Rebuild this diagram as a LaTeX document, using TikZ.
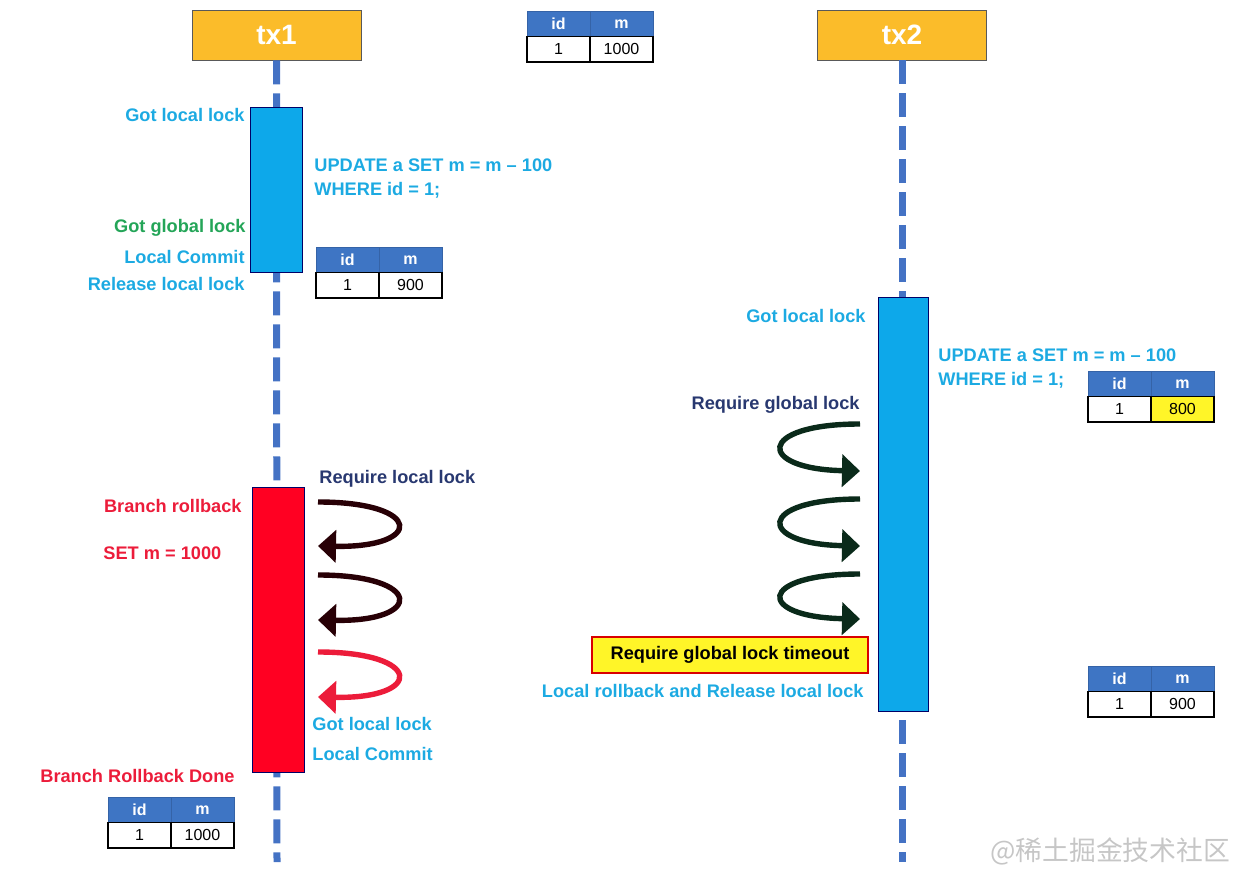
\documentclass[tikz,border=0pt]{standalone}
\usepackage{fontspec}
\setmainfont{Liberation Sans}
\newfontfamily\cjkfont{Noto Sans CJK SC}
\usepackage{tikz}
\usetikzlibrary{arrows.meta, positioning}

\definecolor{txorange}{RGB}{251,188,42}
\definecolor{lifeblue}{RGB}{68,114,196}
\definecolor{barblue}{RGB}{13,168,234}
\definecolor{barred}{RGB}{255,0,34}
\definecolor{hdrblue}{RGB}{62,117,196}
\definecolor{txtcyan}{RGB}{28,170,226}
\definecolor{txtgreen}{RGB}{36,165,88}
\definecolor{txtnavy}{RGB}{40,56,112}
\definecolor{txtred}{RGB}{236,28,58}
\definecolor{loopdark}{RGB}{40,0,6}
\definecolor{loopgreen}{RGB}{10,42,26}
\definecolor{timeoutyellow}{RGB}{255,245,40}

% one small id/m table: name, left x, top y, value, value fill
\newcommand{\dbtable}[5]{%
  \node[hcell, anchor=north west] (#1id) at (#2,#3) {id};
  \node[hcell, right=0pt of #1id] (#1m) {m};
  \node[vcell, below=0pt of #1id] (#1one) {1};
  \node[vcell, fill=#5, below=0pt of #1m] (#1val) {#4};
}

\begin{document}
\begin{tikzpicture}[
    x=0.5pt, y=-0.5pt,
    % Styles
    txhead/.style={rectangle, draw=gray!70!black, fill=txorange, minimum width=84.5pt, minimum height=25pt, text=white, font=\bfseries\fontsize{14}{16}\selectfont},
    lifeline/.style={lifeblue, line width=3.5pt, dash pattern=on 12pt off 4.5pt},
    bar/.style={rectangle, draw=blue!40!black, minimum width=26pt, inner sep=0pt},
    hcell/.style={rectangle, draw=hdrblue!85!black, fill=hdrblue, minimum width=31.5pt, minimum height=12.75pt, inner sep=0pt, outer sep=0pt, text=white, font=\bfseries\fontsize{8}{9}\selectfont},
    vcell/.style={rectangle, draw=black, thick, fill=white, minimum width=31.5pt, minimum height=12.75pt, inner sep=0pt, outer sep=0pt, font=\fontsize{8}{9}\selectfont},
    lbl/.style={inner sep=0pt, font=\bfseries\fontsize{9.1}{12}\selectfont, align=left},
    looparrow/.style={line width=2.7pt, -{Triangle[length=9pt, width=16pt]}},
]
\useasboundingbox (0,0) rectangle (1254,882);

% === HEADERS AND LIFELINES ===
\node[txhead] (tx1) at (276.5,35) {tx1};
\node[txhead] (tx2) at (902,35) {tx2};
\coordinate (tx1end) at (277,862);
\coordinate (tx2end) at (902,862);
\draw[lifeline] (tx1.south) -- (tx1end);
\draw[lifeline] (tx2.south) -- (tx2end);

\dbtable{t0}{527}{11}{1000}{white}

% === TX1 ===
\node[bar, fill=barblue, minimum height=82.5pt] (lock1) at (276,189.5) {};
\node[lbl, txtcyan, anchor=east] (gotlocal1) at (245,115) {Got local lock};
\node[lbl, txtcyan, anchor=west] (update1) at (314,179) {UPDATE a SET m = m -- 100\\WHERE id = 1;};
\node[lbl, txtgreen, anchor=east] (gotglobal1) at (246,228) {Got global lock};
\node[lbl, txtcyan, anchor=east] (commit1) at (245,257) {Local Commit};
\node[lbl, txtcyan, anchor=east] (release1) at (245,284) {Release local lock};
\dbtable{t1}{316}{247}{900}{white}

% Branch rollback
\node[bar, fill=barred, minimum height=142.5pt] (rollback) at (278,629.5) {};
\node[lbl, txtred, anchor=east] (branchrb) at (242,506) {Branch rollback};
\node[lbl, txtred, anchor=west] (setm) at (103,553) {SET m = 1000};
\node[lbl, txtnavy, anchor=west] (reqlocal) at (319,479) {Require local lock};
\node[lbl, txtcyan, anchor=west] (gotlocal3) at (312,724) {Got local lock};
\node[lbl, txtcyan, anchor=west] (commit3) at (312,754) {Local Commit};
\node[lbl, txtred, anchor=west] (rbdone) at (40,776) {Branch Rollback Done};
\dbtable{t4}{108}{797}{1000}{white}

% Retry loops (local lock)
\coordinate (la1) at (318,502);
\coordinate (lb1) at (318,546);
\coordinate (la2) at (318,575);
\coordinate (lb2) at (318,620);
\coordinate (la3) at (318,652);
\coordinate (lb3) at (318,697);
\draw[looparrow, loopdark] (la1) .. controls +(106,0) and +(106,2) .. (lb1);
\draw[looparrow, loopdark] (la2) .. controls +(106,0) and +(106,2) .. (lb2);
\draw[looparrow, txtred] (la3) .. controls +(106,0) and +(106,2) .. (lb3);

% === TX2 ===
\node[bar, fill=barblue, minimum width=25pt, minimum height=207pt] (lock2) at (903,504) {};
\node[lbl, txtcyan, anchor=east] (gotlocal2) at (866,316) {Got local lock};
\node[lbl, txtcyan, anchor=west] (update2) at (938,369) {UPDATE a SET m = m -- 100\\WHERE id = 1;};
\dbtable{t2}{1088}{371}{800}{timeoutyellow}
\node[lbl, txtnavy, anchor=east] (reqglobal) at (860,405) {Require global lock};

% Retry loops (global lock)
\coordinate (ga1) at (860,424);
\coordinate (gb1) at (860,471);
\coordinate (ga2) at (860,499);
\coordinate (gb2) at (860,546);
\coordinate (ga3) at (860,574);
\coordinate (gb3) at (860,619);
\draw[looparrow, loopgreen] (ga1) .. controls +(-104,0) and +(-104,-2) .. (gb1);
\draw[looparrow, loopgreen] (ga2) .. controls +(-104,0) and +(-104,-2) .. (gb2);
\draw[looparrow, loopgreen] (ga3) .. controls +(-104,0) and +(-104,-2) .. (gb3);

\node[rectangle, draw=red!85!black, thick, fill=timeoutyellow, minimum width=138pt, minimum height=18pt, font=\bfseries\fontsize{9.1}{11}\selectfont] (timeout) at (730,655) {Require global lock timeout};
\node[lbl, txtcyan, anchor=east] (localrb) at (864,691) {Local rollback and Release local lock};
\dbtable{t3}{1088}{666}{900}{white}

% watermark
\node[anchor=west, inner sep=0pt, text=gray!45, font=\cjkfont\fontsize{13.4}{15}\selectfont] (mark) at (990,851) {@稀土掘金技术社区};

\end{tikzpicture}
\end{document}
